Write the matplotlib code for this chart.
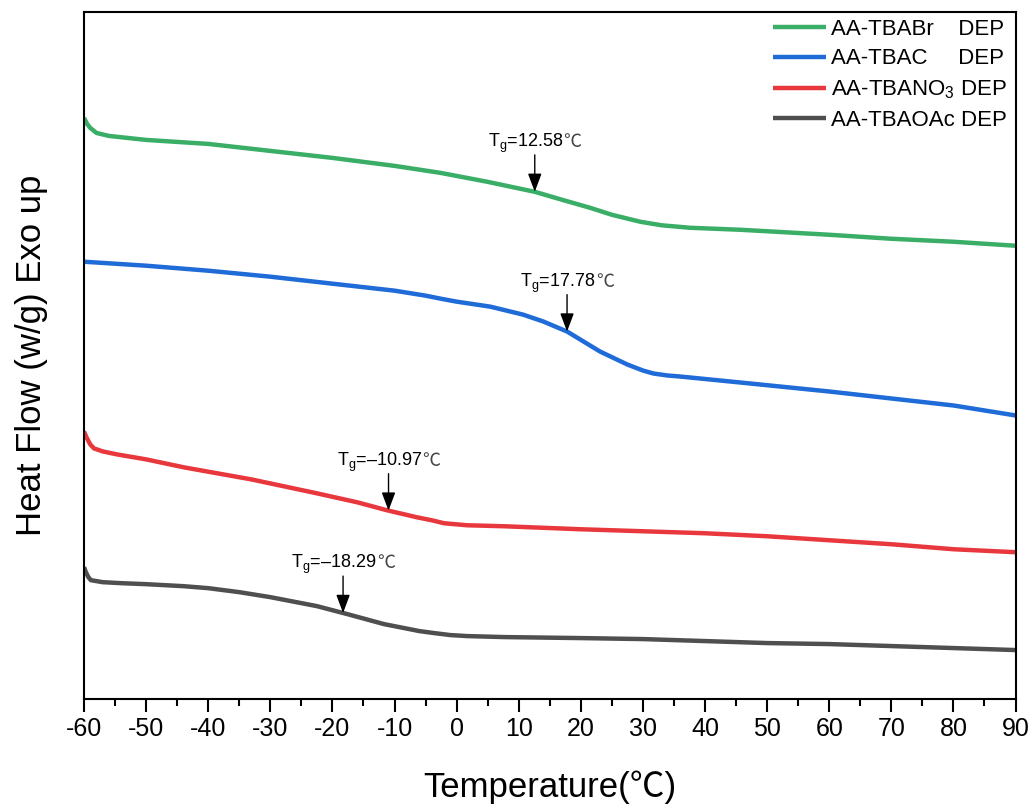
import numpy as np
import matplotlib
matplotlib.use('Agg')
import matplotlib.pyplot as plt
from matplotlib.ticker import MultipleLocator
from matplotlib.offsetbox import TextArea, HPacker, AnnotationBbox

plt.rcParams['font.family'] = ['Liberation Sans', 'Noto Sans CJK SC', 'DejaVu Sans']
plt.rcParams['mathtext.fontset'] = 'custom'
plt.rcParams['mathtext.rm'] = 'Liberation Sans'
plt.rcParams['mathtext.it'] = 'Liberation Sans:italic'
plt.rcParams['axes.unicode_minus'] = False

# temperature (C) and heat flow (arbitrary units, curves offset)
t_br = [-60, -59.5, -59, -58, -56, -53, -50, -40, -30, -20, -10, -2.6, 5, 12.6, 17, 21.5, 25, 29.6, 33, 37.6, 45.7, 60, 70, 80, 90]
hf_br = [5.81, 5.75, 5.71, 5.66, 5.63, 5.61, 5.59, 5.55, 5.48, 5.41, 5.33, 5.26, 5.17, 5.07, 4.99, 4.91, 4.84, 4.77, 4.735, 4.71, 4.69, 4.64, 4.60, 4.57, 4.53]

t_cl = [-60, -50, -40, -30, -20, -10, -5, -2.6, 0, 5.4, 10.7, 14, 17.8, 23.1, 27.5, 30, 31.7, 34, 36, 45.7, 60, 70, 80, 90]
hf_cl = [4.37, 4.33, 4.28, 4.22, 4.15, 4.08, 4.03, 4.00, 3.97, 3.92, 3.84, 3.77, 3.67, 3.47, 3.34, 3.28, 3.25, 3.23, 3.22, 3.16, 3.07, 3.00, 2.93, 2.83]

t_no3 = [-60, -59.6, -59, -58.4, -57, -54.7, -50, -43.9, -33.1, -22.5, -16, -11.2, -6.4, -4, -2, 1.7, 7.7, 20, 30, 40, 50, 60, 70, 80, 90]
hf_no3 = [2.67, 2.61, 2.54, 2.50, 2.47, 2.44, 2.39, 2.31, 2.19, 2.05, 1.96, 1.88, 1.81, 1.78, 1.75, 1.73, 1.72, 1.69, 1.67, 1.65, 1.62, 1.58, 1.54, 1.49, 1.46]

t_oac = [-60, -59.7, -59.3, -58.9, -57, -54, -50, -44, -40, -35, -30, -25, -22.5, -17.6, -11.7, -6, -3.6, -1, 1.7, 7.7, 20, 30, 40, 50, 60, 70, 80, 90]
hf_oac = [1.31, 1.26, 1.21, 1.18, 1.16, 1.15, 1.14, 1.12, 1.10, 1.06, 1.01, 0.95, 0.92, 0.84, 0.74, 0.67, 0.65, 0.63, 0.62, 0.61, 0.60, 0.59, 0.57, 0.55, 0.54, 0.52, 0.50, 0.48]

labels = ['AA-TBABr    DEP', 'AA-TBAC     DEP', 'AA-TBANO$_3$ DEP', 'AA-TBAOAc DEP']
colors = ['#3aae67', '#1f6bd8', '#e8383d', '#4f4f4f']
tg_vals = [12.58, 17.78, -10.97, -18.29]
tg_text = ['12.58', '17.78', '\u201310.97', '\u201318.29']

fig = plt.figure(figsize=(10.35, 8.09), dpi=100)
ax = fig.add_axes([0.0812, 0.136, 0.9000, 0.849])

series = [(t_br, hf_br), (t_cl, hf_cl), (t_no3, hf_no3), (t_oac, hf_oac)]
for (t, hf), c, lab in zip(series, colors, labels):
    ax.plot(t, hf, color=c, lw=3.2, label=lab, solid_capstyle='butt', solid_joinstyle='round')

for (t, hf), tg, txt in zip(series, tg_vals, tg_text):
    yc = np.interp(tg, t, hf)
    ax.annotate('', xy=(tg, yc), xytext=(tg, yc + 0.37),
                arrowprops=dict(arrowstyle='-|>,head_length=0.8,head_width=0.3', color='black',
                                lw=1.0, mutation_scale=14, shrinkA=0, shrinkB=0))
    main = TextArea('T$_\\mathrm{g}$=' + txt, textprops=dict(fontsize=13, family='Liberation Sans'))
    deg = TextArea('\u2103', textprops=dict(fontsize=13, family='Noto Sans CJK SC', color='#444444'))
    box = HPacker(children=[main, deg], align='baseline', pad=0, sep=0)
    ab = AnnotationBbox(box, (tg, yc + 0.37), frameon=False, box_alignment=(0.5, 0), pad=0)
    ax.add_artist(ab)

ax.set_xlim(-60, 90)
ax.set_ylim(-0.01, 6.87)
ax.xaxis.set_major_locator(MultipleLocator(10))
ax.xaxis.set_minor_locator(MultipleLocator(5))
ax.set_yticks([])
ax.tick_params(axis='x', which='major', direction='out', length=9, width=1.5, labelsize=18, pad=4)
ax.tick_params(axis='x', which='minor', direction='out', length=5, width=1.5)
for s in ax.spines.values():
    s.set_linewidth(1.5)

ax.set_xlabel('Temperature(\u2103)', fontsize=25, labelpad=21)
ax.set_ylabel('Heat Flow (w/g) Exo up', fontsize=25, labelpad=26)

ax.legend(loc='upper right', frameon=False, fontsize=16, handlelength=2.4,
          handletextpad=0.2, labelspacing=0.4, borderaxespad=0.2,
          bbox_to_anchor=(1.005, 1.01))

fig.savefig('out.png', dpi=100)
